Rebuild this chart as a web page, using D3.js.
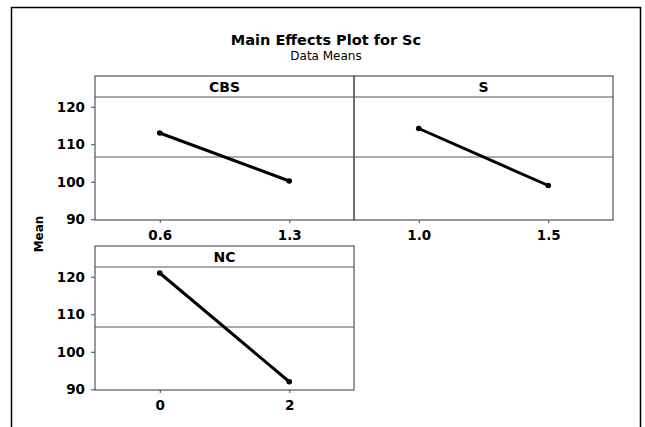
<!DOCTYPE html>
<html lang="en">
<head>
<meta charset="utf-8" />
<title>Main Effects Plot for Sc</title>
<script src="https://d3js.org/d3.v7.min.js"></script>
<style>
	body { margin: 0; background: #fff; }
	text { font-family: "DejaVu Sans", Verdana, sans-serif; fill: #000; }
</style>
</head>
<body>
<div id="chart"></div>
<script>
	// factor names, levels and data means
	var factors = ["CBS", "S", "NC"];
	var cbsLevels = ["0.6", "1.3"];
	var sLevels = ["1.0", "1.5"];
	var ncLevels = ["0", "2"];
	var cbsMeans = [113.0, 100.2];
	var sMeans = [114.2, 99.0];
	var ncMeans = [121.0, 92.0];
	var grandMean = 106.6;
	var yTicks = [90, 100, 110, 120];

	var levels = [cbsLevels, sLevels, ncLevels];
	var means = [cbsMeans, sMeans, ncMeans];

	var W = 645, H = 427;
	var panelW = 259, panelH = 144, headerH = 21;
	// top-left corner of each panel (col, row)
	var grid = [[0, 0], [1, 0], [0, 1]];
	var left = 95, top0 = 76, rowGap = 170;

	var svg = d3.select("#chart")
		.append("svg")
		.attr("width", W)
		.attr("height", H);

	// outer frame
	svg.append("rect")
		.attr("x", 11.5)
		.attr("y", 7.5)
		.attr("width", 629)
		.attr("height", 440)
		.attr("fill", "none")
		.attr("stroke", "#000")
		.attr("stroke-width", 1.5);

	svg.append("text")
		.attr("x", 326)
		.attr("y", 45)
		.attr("text-anchor", "middle")
		.style("font-size", "14.5px")
		.style("font-weight", "bold")
		.text("Main Effects Plot for Sc");

	svg.append("text")
		.attr("x", 326)
		.attr("y", 60)
		.attr("text-anchor", "middle")
		.style("font-size", "12px")
		.text("Data Means");

	svg.append("text")
		.attr("transform", "translate(43,234) rotate(-90)")
		.attr("text-anchor", "middle")
		.style("font-size", "12px")
		.style("font-weight", "bold")
		.text("Mean");

	var y = d3.scaleLinear()
		.domain([89.8, 122.6])
		.range([panelH - headerH, 0]);

	factors.forEach(function(f, i) {
		var col = grid[i][0], row = grid[i][1];
		var g = svg.append("g")
			.attr("transform", "translate(" + (left + col * panelW) + "," + (top0 + row * rowGap) + ")");

		var x = d3.scalePoint()
			.domain(levels[i])
			.range([0, panelW])
			.padding(0.5);

		// plot area sits below the header strip
		var plot = g.append("g")
			.attr("transform", "translate(0," + headerH + ")");

		// grand mean reference line
		plot.append("line")
			.attr("x1", 0)
			.attr("x2", panelW)
			.attr("y1", y(grandMean))
			.attr("y2", y(grandMean))
			.attr("stroke", "#555")
			.attr("stroke-width", 1);

		var data = levels[i].map(function(l, j) { return { level: l, mean: means[i][j] }; });

		plot.append("path")
			.datum(data)
			.attr("fill", "none")
			.attr("stroke", "#000")
			.attr("stroke-width", 3)
			.attr("d", d3.line()
				.x(function(d) { return x(d.level); })
				.y(function(d) { return y(d.mean); }));

		plot.selectAll(".pt")
			.data(data)
			.enter()
			.append("circle")
			.attr("cx", function(d) { return x(d.level); })
			.attr("cy", function(d) { return y(d.mean); })
			.attr("r", 2.8)
			.attr("fill", "#000");

		// bottom axis
		var xa = plot.append("g")
			.attr("transform", "translate(0," + (panelH - headerH) + ")")
			.call(d3.axisBottom(x).tickSize(3).tickPadding(7));
		xa.select(".domain").remove();
		xa.selectAll("line").attr("stroke", "#444");
		xa.selectAll("text")
			.style("font-size", "13.5px")
			.style("font-weight", "bold")
			.style("font-family", "'DejaVu Sans', sans-serif")
			.attr("fill", "#111");

		if (col === 0) {
			var ya = plot.append("g")
				.call(d3.axisLeft(y).tickValues(yTicks).tickSize(4).tickPadding(6));
			ya.select(".domain").remove();
			ya.selectAll("line").attr("stroke", "#444");
			ya.selectAll("text")
				.style("font-size", "13.5px")
				.style("font-weight", "bold")
				.style("font-family", "'DejaVu Sans', sans-serif")
				.attr("fill", "#111");
		}

		// panel frame and header strip
		g.append("rect")
			.attr("x", 0)
			.attr("y", 0)
			.attr("width", panelW)
			.attr("height", panelH)
			.attr("fill", "none")
			.attr("stroke", "#555")
			.attr("stroke-width", 1.2);
		g.append("line")
			.attr("x1", 0)
			.attr("x2", panelW)
			.attr("y1", headerH)
			.attr("y2", headerH)
			.attr("stroke", "#555")
			.attr("stroke-width", 1.2);
		g.append("text")
			.attr("x", panelW / 2)
			.attr("y", 16)
			.attr("text-anchor", "middle")
			.style("font-size", "14px")
			.style("font-weight", "bold")
			.text(f);
	});
</script>
</body>
</html>
